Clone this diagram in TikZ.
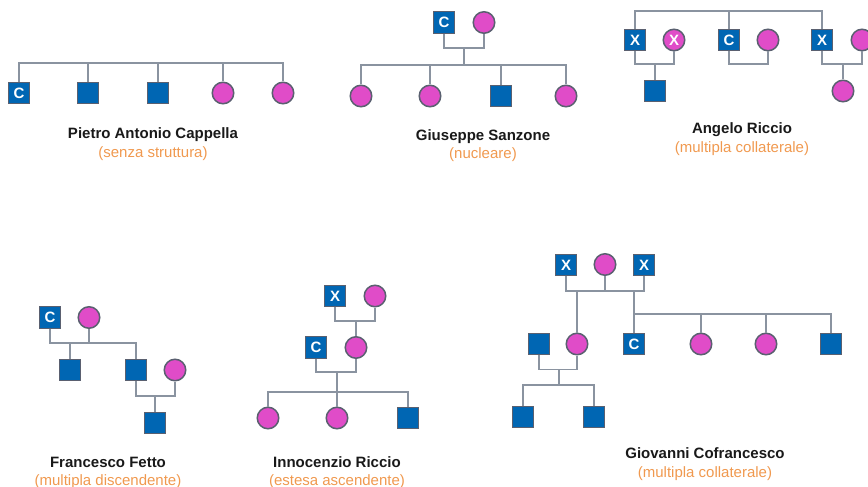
\documentclass[tikz,border=0pt]{standalone}
\usepackage{fontspec}
\setmainfont{Liberation Sans}
\definecolor{pblue}{HTML}{0066B3}
\definecolor{ppink}{HTML}{E04CC8}
\definecolor{pborder}{HTML}{5A6070}
\definecolor{pline}{HTML}{8A93A0}
\definecolor{porange}{HTML}{F0994F}
\tikzset{
  sq/.style={rectangle, fill=pblue, draw=pborder, line width=1.2pt, minimum size=21.5pt, inner sep=0pt,
    text=white, font=\fontsize{15}{15}\selectfont\bfseries},
  fc/.style={circle, fill=ppink, draw=pborder, line width=1.5pt, minimum size=21.5pt, inner sep=0pt,
    text=white, font=\fontsize{15}{15}\selectfont\bfseries},
  ln/.style={draw=pline, line width=1.5pt},
  ttl/.style={anchor=base, inner sep=0pt, font=\fontsize{15}{15}\selectfont\bfseries, text=black!90},
  sub/.style={anchor=base, inner sep=0pt, font=\fontsize{15}{15}\selectfont, text=porange}
}
\begin{document}
\begin{tikzpicture}[x=1pt,y=-1pt]
\useasboundingbox (0,0) rectangle (868,487);
\begin{scope}
\clip (0,0) rectangle (868,487);
% ---------- Diagram 1
\coordinate (t1) at (19,63);
\node[sq] (a1) at (19,93) {C};
\node[sq] (a2) at (88,93) {};
\node[sq] (a3) at (158,93) {};
\node[fc] (a4) at (223,93) {};
\node[fc] (a5) at (283,93) {};
\draw[ln] (a1.north) -- (a1.north |- t1) -- (a5.north |- t1) -- (a5.north);
\draw[ln] (a2.north) -- (a2.north |- t1);
\draw[ln] (a3.north) -- (a3.north |- t1);
\draw[ln] (a4.north) -- (a4.north |- t1);
\node[ttl] (a6) at (153,138) {Pietro Antonio Cappella};
\node[sub] (a7) at (153,157) {(senza struttura)};
% ---------- Diagram 2
\node[sq] (b1) at (444,22.5) {C};
\node[fc] (b2) at (484,22.5) {};
\coordinate (bc) at (464,48);
\coordinate (bs) at (464,65);
\node[fc] (b3) at (361,96) {};
\node[fc] (b4) at (430,96) {};
\node[sq] (b5) at (501,96) {};
\node[fc] (b6) at (566,96) {};
\draw[ln] (b1.south) |- (bc) -| (b2.south);
\draw[ln] (bc) -- (bs);
\draw[ln] (b3.north) |- (bs) -| (b6.north);
\draw[ln] (b4.north) -- (b4.north |- bs);
\draw[ln] (b5.north) -- (b5.north |- bs);
\node[ttl] (b7) at (483,140) {Giuseppe Sanzone};
\node[sub] (b8) at (483,158) {(nucleare)};
% ---------- Diagram 3
\coordinate (ct) at (729,11);
\node[sq] (c1) at (635,40) {X};
\node[fc] (c2) at (674,40) {X};
\node[sq] (c3) at (729,40) {C};
\node[fc] (c4) at (768,40) {};
\node[sq] (c5) at (822,40) {X};
\node[fc] (c6) at (862,40) {};
\node[sq] (c7) at (655,91) {};
\node[fc] (c8) at (843,91) {};
\coordinate (cc1) at (655,64);
\coordinate (cc2) at (748,64);
\coordinate (cc3) at (843,64);
\draw[ln] (c1.north) |- (ct) -| (c5.north);
\draw[ln] (c3.north) -- (ct);
\draw[ln] (c1.south) |- (cc1) -| (c2.south);
\draw[ln] (cc1) -- (c7.north);
\draw[ln] (c3.south) |- (cc2) -| (c4.south);
\draw[ln] (c5.south) |- (cc3) -| (c6.south);
\draw[ln] (cc3) -- (c8.north);
\node[ttl] (c9) at (742,133) {Angelo Riccio};
\node[sub] (c10) at (742,152) {(multipla collaterale)};
% ---------- Diagram 4
\node[sq] (d1) at (50,317.5) {C};
\node[fc] (d2) at (89,317.5) {};
\node[sq] (d3) at (70,370) {};
\node[sq] (d4) at (136,370) {};
\node[fc] (d5) at (175,370) {};
\node[sq] (d6) at (155,423) {};
\coordinate (dc1) at (89,343);
\coordinate (dc2) at (155,396);
\draw[ln] (d1.south) |- (dc1) -| (d4.north);
\draw[ln] (d2.south) -- (dc1);
\draw[ln] (d3.north) -- (d3.north |- dc1);
\draw[ln] (d4.south) |- (dc2) -| (d5.south);
\draw[ln] (dc2) -- (d6.north);
\node[ttl] (d7) at (108,467) {Francesco Fetto};
\node[sub] (d8) at (108,485) {(multipla discendente)};
% ---------- Diagram 5
\node[sq] (e1) at (335,296) {X};
\node[fc] (e2) at (375,296) {};
\node[sq] (e3) at (316,347.5) {C};
\node[fc] (e4) at (356,347.5) {};
\node[fc] (e5) at (268,418) {};
\node[fc] (e6) at (337,418) {};
\node[sq] (e7) at (408,418) {};
\coordinate (ec1) at (356,321);
\coordinate (ec2) at (337,372);
\coordinate (es) at (337,392);
\draw[ln] (e1.south) |- (ec1) -| (e2.south);
\draw[ln] (ec1) -- (e4.north);
\draw[ln] (e3.south) |- (ec2) -| (e4.south);
\draw[ln] (ec2) -- (e6.north);
\draw[ln] (e5.north) |- (es) -| (e7.north);
\node[ttl] (e8) at (337,467) {Innocenzio Riccio};
\node[sub] (e9) at (337,485) {(estesa ascendente)};
% ---------- Diagram 6
\node[sq] (f1) at (566,265) {X};
\node[fc] (f2) at (605,264.5) {};
\node[sq] (f3) at (644,265) {X};
\node[fc] (f4) at (577,344) {};
\node[sq] (f5) at (634,344) {C};
\node[fc] (f6) at (701,344) {};
\node[fc] (f7) at (766,344) {};
\node[sq] (f8) at (831,344) {};
\node[sq] (f9) at (539,344) {};
\node[sq] (f10) at (523,417) {};
\node[sq] (f11) at (594,417) {};
\coordinate (fc1) at (605,291);
\coordinate (fs1) at (634,314);
\coordinate (fc2) at (559,369.5);
\coordinate (fs2) at (559,385);
\draw[ln] (f1.south) |- (fc1) -| (f3.south);
\draw[ln] (f2.south) -- (fc1);
\draw[ln] (f4.north) -- (f4.north |- fc1);
\draw[ln] (f5.north) -- (f5.north |- fc1);
\draw[ln] (fs1) -| (f8.north);
\draw[ln] (f6.north) -- (f6.north |- fs1);
\draw[ln] (f7.north) -- (f7.north |- fs1);
\draw[ln] (f9.south) |- (fc2) -| (f4.south);
\draw[ln] (fc2) -- (fs2);
\draw[ln] (f10.north) |- (fs2) -| (f11.north);
\node[ttl] (f12) at (705,458) {Giovanni Cofrancesco};
\node[sub] (f13) at (705,477) {(multipla collaterale)};
\end{scope}
\end{tikzpicture}
\end{document}
